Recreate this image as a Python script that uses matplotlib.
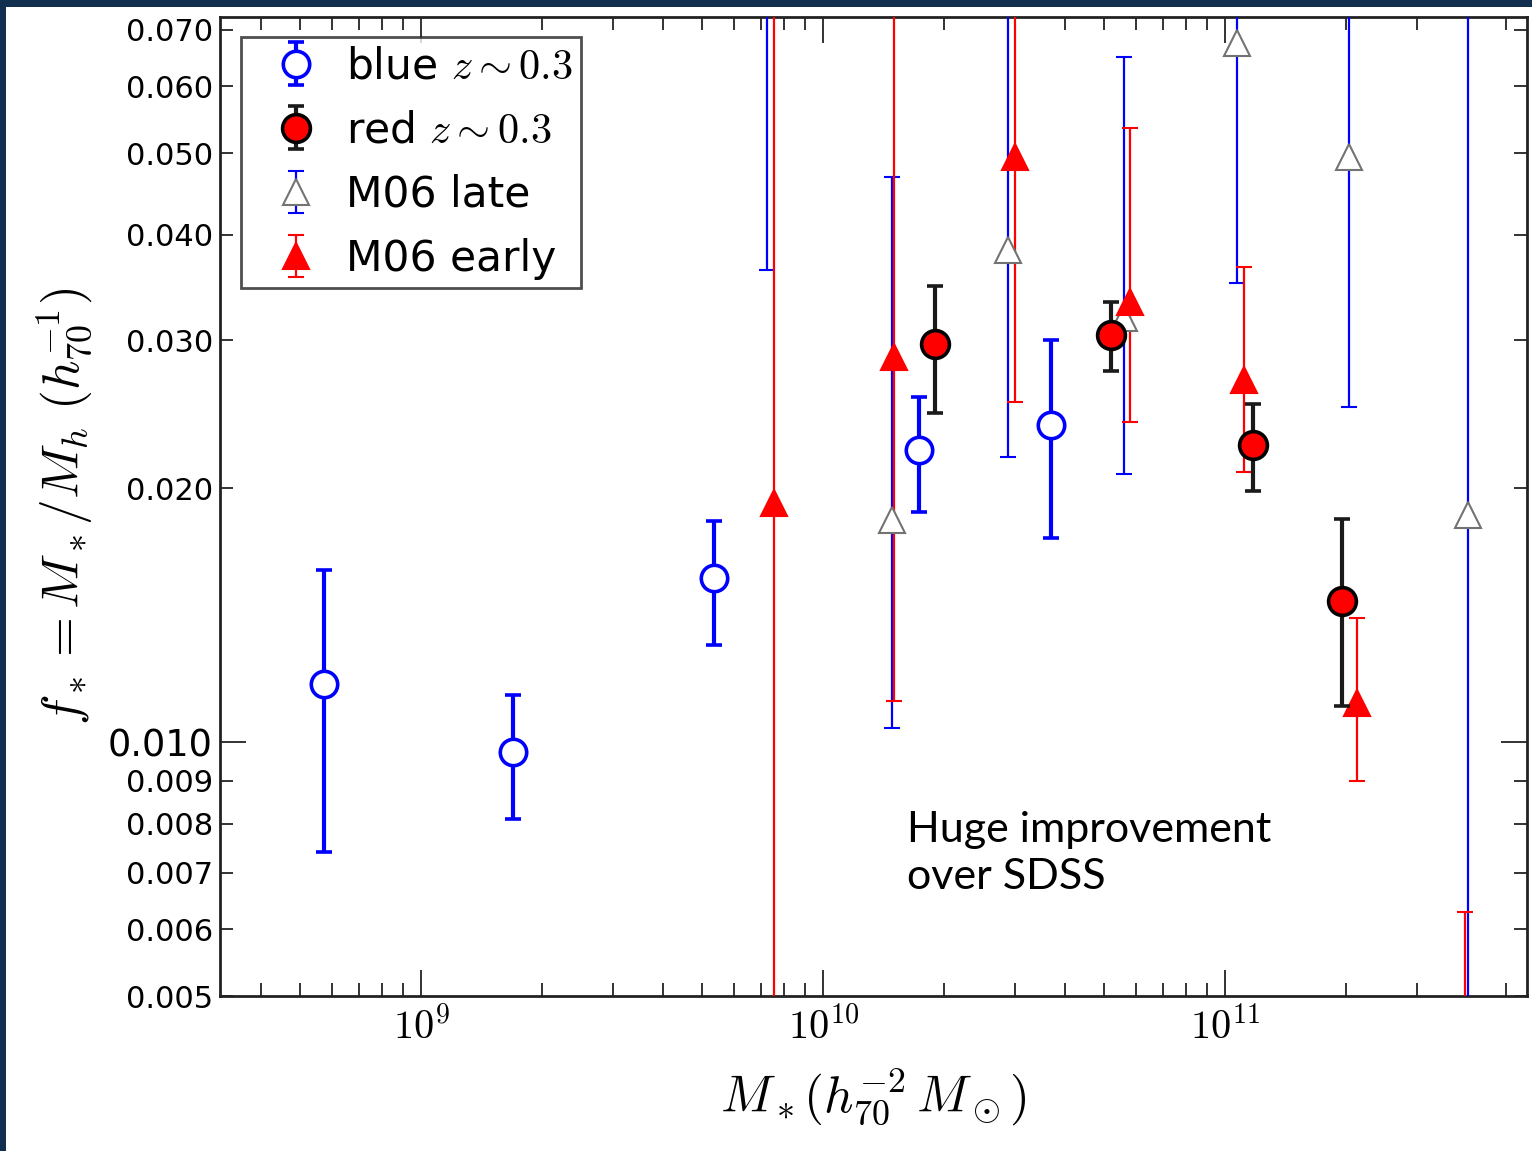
import matplotlib
matplotlib.use('Agg')
import matplotlib.pyplot as plt
from matplotlib.ticker import FixedLocator, FixedFormatter, NullFormatter
from matplotlib.patches import Rectangle
import numpy as np

plt.rcParams['mathtext.fontset'] = 'cm'
plt.rcParams['font.family'] = ['DejaVu Sans']

# ---- data ----
# blue z~0.3 (open blue circles)
blue_x = [5.74e8, 1.69e9, 5.36e9, 1.73e10, 3.69e10]
blue_y = [0.01172, 0.00974, 0.01566, 0.02222, 0.02379]
blue_lo = [0.00741, 0.00811, 0.01305, 0.01875, 0.01747]
blue_hi = [0.0160, 0.01138, 0.0183, 0.02568, 0.0300]

# red z~0.3 (red circles, black error bars)
red_x = [1.90e10, 5.2e10, 1.17e11, 1.95e11]
red_y = [0.02968, 0.0304, 0.02252, 0.0147]
red_lo = [0.02457, 0.02757, 0.01986, 0.01104]
red_hi = [0.03477, 0.0333, 0.0252, 0.0184]

# M06 late (open triangles, blue error bars)
late_x = [7.26e9, 1.486e10, 2.88e10, 5.61e10, 1.07e11, 2.03e11, 4.0e11]
late_y = [0.09, 0.01835, 0.0384, 0.0319, 0.0675, 0.0494, 0.0186]
late_lo = [0.0363, 0.0104, 0.0218, 0.0208, 0.0351, 0.0250, 0.002]
late_hi = [0.15, 0.0468, 0.12, 0.0650, 0.12, 0.12, 0.12]

# M06 early (red triangles)
early_x = [7.55e9, 1.50e10, 2.99e10, 5.8e10, 1.114e11, 2.12e11, 3.95e11]
early_y = [0.0192, 0.02865, 0.0495, 0.0333, 0.0269, 0.01114, 0.003]
early_lo = [0.002, 0.0112, 0.0253, 0.0240, 0.0209, 0.0090, 0.001]
early_hi = [0.2, 0.12, 0.12, 0.0536, 0.0366, 0.01403, 0.00629]

y_major = [0.01]
y_major_labels = ['0.010']
y_minor = [0.005, 0.006, 0.007, 0.008, 0.009, 0.02, 0.03, 0.04, 0.05, 0.06, 0.07]
y_minor_labels = ['0.005', '0.006', '0.007', '0.008', '0.009', '0.020', '0.030',
                  '0.040', '0.050', '0.060', '0.070']
x_major = [1e9, 1e10, 1e11]
x_major_labels = [r'$10^{9}$', r'$10^{10}$', r'$10^{11}$']


def yerr(y, lo, hi):
    y = np.asarray(y); lo = np.asarray(lo); hi = np.asarray(hi)
    return [y - lo, hi - y]


W, H = 1532, 1151
fig = plt.figure(figsize=(W / 100, H / 100), dpi=100)
fig.patch.set_facecolor('white')
navy = '#132f4f'
fig.patches.append(Rectangle((0, 0), 6 / W, 1, transform=fig.transFigure,
                             facecolor=navy, edgecolor='none', zorder=10))
fig.patches.append(Rectangle((0, 1 - 7 / H), 1, 7 / H, transform=fig.transFigure,
                             facecolor=navy, edgecolor='none', zorder=10))

ax = fig.add_axes([220 / W, 155 / H, 1307 / W, 979 / H])

ax.errorbar(blue_x, blue_y, yerr=yerr(blue_y, blue_lo, blue_hi), fmt='o', ms=19,
            mfc='white', mec='blue', mew=2.6, ecolor='blue', elinewidth=3,
            capsize=6, capthick=3, label=r'blue $z\sim0.3$', zorder=4)
ax.errorbar(red_x, red_y, yerr=yerr(red_y, red_lo, red_hi), fmt='o', ms=20,
            mfc='red', mec='black', mew=2.6, ecolor='#1a1a1a', elinewidth=3,
            capsize=6, capthick=3, label=r'red $z\sim0.3$', zorder=4)
ax.errorbar(late_x, late_y, yerr=yerr(late_y, late_lo, late_hi), fmt='^', ms=19,
            mfc='white', mec='0.45', mew=1.5, ecolor='blue', elinewidth=1.6,
            capsize=6, capthick=1.5, label='M06 late', zorder=3)
ax.errorbar(early_x, early_y, yerr=yerr(early_y, early_lo, early_hi), fmt='^', ms=19,
            mfc='red', mec='red', mew=1.5, ecolor='red', elinewidth=1.6,
            capsize=6, capthick=1.5, label='M06 early', zorder=3)

ax.set_xscale('log')
ax.set_yscale('log')
ax.set_xlim(10 ** 8.5, 10 ** 11.75)
ax.set_ylim(0.005, 0.0725)

ax.yaxis.set_major_locator(FixedLocator(y_major))
ax.yaxis.set_major_formatter(FixedFormatter(y_major_labels))
ax.yaxis.set_minor_locator(FixedLocator(y_minor))
ax.yaxis.set_minor_formatter(FixedFormatter(y_minor_labels))

ax.xaxis.set_major_locator(FixedLocator(x_major))
ax.xaxis.set_major_formatter(FixedFormatter(x_major_labels))
ax.xaxis.set_minor_locator(matplotlib.ticker.LogLocator(base=10, subs=np.arange(2, 10)))
ax.xaxis.set_minor_formatter(NullFormatter())

ax.tick_params(which='both', direction='in', top=True, right=True, color='#333333')
ax.tick_params(which='major', length=19, width=1.4)
ax.tick_params(which='minor', length=9.5, width=1.4)
ax.tick_params(axis='y', which='major', labelsize=26.5, pad=5)
ax.tick_params(axis='y', which='minor', labelsize=22, pad=5)
ax.tick_params(axis='x', which='major', labelsize=29, pad=8)
for s in ax.spines.values():
    s.set_linewidth(2)
    s.set_color('#222222')

ax.set_xlabel(r'$M_*(h_{70}^{-2}\,M_\odot)$', fontsize=37, labelpad=14)
ax.set_ylabel(r'$f_*=M_*/M_h\ (h_{70}^{-1})$', fontsize=37, labelpad=10)

leg = ax.legend(loc='upper left', bbox_to_anchor=(21 / 1307, 1 - 20 / 979),
                borderaxespad=0, fontsize=30.5, numpoints=1, fancybox=False,
                handlelength=2.2, handletextpad=0.08, labelspacing=0.52,
                borderpad=0.2)
leg.get_frame().set_edgecolor('#222222')
leg.get_frame().set_linewidth(2)

ax.text((907 - 220) / 1307, (996 - 842) / 979, 'Huge improvement',
        transform=ax.transAxes, fontsize=31, family='Lato', va='baseline', ha='left')
ax.text((907 - 220) / 1307, (996 - 889) / 979, 'over SDSS',
        transform=ax.transAxes, fontsize=31, family='Lato', va='baseline', ha='left')

fig.savefig('out.png', dpi=100)
